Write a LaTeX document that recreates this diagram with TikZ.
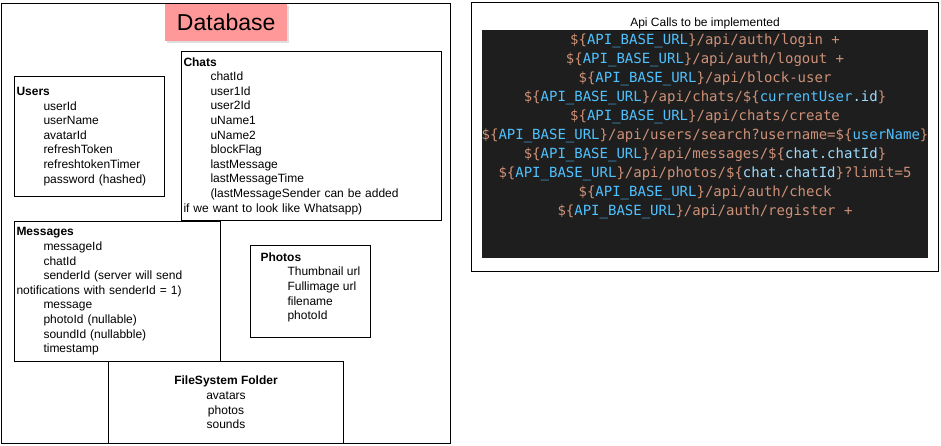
\documentclass[tikz,border=0pt]{standalone}
\usepackage{fontspec}
\setmainfont{Liberation Sans}
\newfontfamily\codefont{DejaVu Sans Mono}
\usetikzlibrary{shadows}

\definecolor{dbpink}{HTML}{FF9999}
\definecolor{codebg}{HTML}{1E1E1E}
\definecolor{codeorange}{HTML}{CE9178}
\definecolor{codeblue}{HTML}{4FC1FF}
\definecolor{codevar}{HTML}{9CDCFE}

\newcommand{\fld}[1]{\hspace*{27pt}#1}
\newcommand{\apiurl}{\$\{\textcolor{codeblue}{API\_BASE\_URL}\}}
\newcommand{\tplvar}[1]{\$\{\textcolor{codevar}{#1}\}}

\tikzstyle{frame} = [rectangle, draw, line width=1pt, anchor=north west]
\tikzstyle{entity} = [rectangle, draw, fill=white, line width=1pt, inner xsep=2pt, inner ysep=0pt, align=left, anchor=north west, font=\fontsize{12pt}{14.6pt}\selectfont]

\begin{document}
\begin{tikzpicture}[x=1pt, y=-1pt]
\useasboundingbox (0,0) rectangle (941,445);
% Database side
\node [frame, minimum width=449.5pt, minimum height=440pt] (Database) at (0.5,3) {};
\node [rectangle, fill=dbpink, drop shadow={opacity=0.25, shadow xshift=2pt, shadow yshift=-2pt}, minimum width=122pt, minimum height=37pt, anchor=north west, font=\fontsize{23pt}{27pt}\selectfont] (DbTitle) at (165,4) {Database};
\node [entity, minimum width=150pt, minimum height=120pt, text width=146pt] (Users) at (14,76) {\textbf{Users}\\ \fld{userId}\\ \fld{userName}\\ \fld{avatarId}\\ \fld{refreshToken}\\ \fld{refreshtokenTimer}\\ \fld{password (hashed)}};
\node [entity, minimum width=260pt, minimum height=169pt, text width=256pt] (Chats) at (181,51) {\textbf{Chats}\\ \fld{chatId}\\ \fld{user1Id}\\ \fld{user2Id}\\ \fld{uName1}\\ \fld{uName2}\\ \fld{blockFlag}\\ \fld{lastMessage}\\ \fld{lastMessageTime}\\ \fld{(lastMessageSender can be added}\\ if we want to look like Whatsapp)};
\node [entity, minimum width=206pt, minimum height=140pt, text width=202pt] (Messages) at (14,221) {\textbf{Messages}\\ \fld{messageId}\\ \fld{chatId}\\ \fld{senderId (server will send}\\ notifications with senderId = 1)\\ \fld{message}\\ \fld{photoId (nullable)}\\ \fld{soundId (nullabble)}\\ \fld{timestamp}};
\node [entity, minimum width=120pt, minimum height=92pt] (Photos) at (250,245) {};
\node [entity, draw=none, fill=none, inner sep=0pt, anchor=north west] (PhotosText) at ([xshift=10pt, yshift=-7pt]Photos.north west) {\textbf{Photos}\\ \fld{Thumbnail url}\\ \fld{Fullimage url}\\ \fld{filename}\\ \fld{photoId}};
\node [entity, align=center, minimum width=235pt, minimum height=82pt] (Files) at (108,361) {\textbf{FileSystem Folder}\\ avatars\\ photos\\ sounds};
% Api side
\node [frame, minimum width=467pt, minimum height=269pt] (Api) at (471,2) {};
\node [rectangle, fill=codebg, minimum width=446pt, minimum height=228pt, anchor=north west] (CodeBg) at (482,30) {};
\node [inner sep=0pt, anchor=base, font=\fontsize{12pt}{14.4pt}\selectfont] (ApiTitle) at (705,26) {\underline{Api Calls to be implemented}};
\node [inner sep=0pt, anchor=north, align=center, text=codeorange, font=\codefont\fontsize{14pt}{19pt}\selectfont] (Calls) at (705,34) {\apiurl/api/auth/login +\\
\apiurl/api/auth/logout +\\
\apiurl/api/block-user\\
\apiurl/api/chats/\tplvar{\textcolor{codeblue}{currentUser}.id}\\
\apiurl/api/chats/create\\
\apiurl/api/users/search?username=\tplvar{\textcolor{codeblue}{userName}}\\
\apiurl/api/messages/\tplvar{chat.chatId}\\
\apiurl/api/photos/\tplvar{chat.chatId}?limit=5\\
\apiurl/api/auth/check\\
\apiurl/api/auth/register +};
\end{tikzpicture}
\end{document}
